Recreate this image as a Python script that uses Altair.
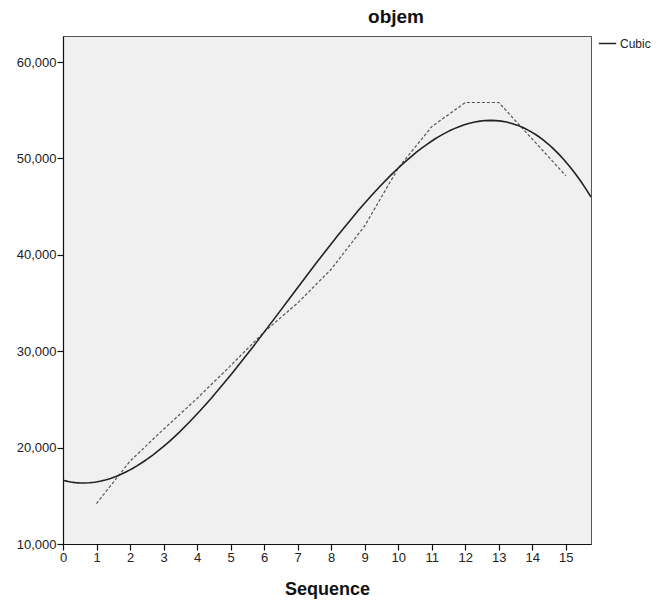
import altair as alt
import pandas as pd

sequence = [1, 2, 3, 4, 5, 6, 7, 8, 9, 10, 11, 12, 13, 14, 15]
objem = [14200, 18600, 21900, 25100, 28500, 32000, 35000, 38500,
         43000, 49000, 53300, 55800, 55800, 52000, 48200]
x_ticks = list(range(0, 16))
y_ticks = [10000, 20000, 30000, 40000, 50000, 60000]

df = pd.DataFrame({"seq": sequence, "objem": objem})

FONT = "Liberation Sans"
X_DOMAIN = [0, 15.75]
Y_DOMAIN = [10000, 62700]

x_axis = alt.Axis(values=x_ticks, format="d", title="Sequence", grid=False,
                  tickSize=6, labelPadding=1, titlePadding=16,
                  labelOverlap=False, labelFlush=False)
y_axis = alt.Axis(values=y_ticks, format=",d", title=None, grid=False,
                  tickSize=6, labelPadding=1, labelOverlap=False)

x_enc = alt.X("seq:Q", scale=alt.Scale(domain=X_DOMAIN, nice=False, zero=False),
              axis=x_axis)
y_enc = alt.Y("objem:Q", scale=alt.Scale(domain=Y_DOMAIN, nice=False, zero=False),
              axis=y_axis)

observed = alt.Chart(df).mark_line(
    color="#555555", strokeWidth=1.2, strokeDash=[3, 2]
).encode(x=x_enc, y=y_enc)

fit = alt.Chart(df).transform_regression(
    "seq", "objem", method="poly", order=3, extent=X_DOMAIN
).transform_calculate(series="'Cubic'").mark_line(
    strokeWidth=1.6, clip=True
).encode(
    x=x_enc,
    y=y_enc,
    color=alt.Color(
        "series:N",
        scale=alt.Scale(range=["#222222"]),
        legend=alt.Legend(
            title=None, orient="none", legendX=535, legendY=-2,
            symbolType="stroke", symbolStrokeWidth=1.5, symbolSize=300,
            labelFontSize=12, labelFont=FONT, labelColor="#222222",
            padding=0, labelOffset=3,
        ),
    ),
)

chart = alt.layer(observed, fit).properties(
    width=528,
    height=508,
    autosize=alt.AutoSizeParams(type="none"),
    padding={"left": 63, "top": 36, "right": 66, "bottom": 59},
    title=alt.TitleParams(
        "objem", font=FONT, fontSize=19, fontWeight="bold", color="#111111",
        anchor="middle", dx=69, offset=7,
    ),
).configure_view(
    fill="#f0f0f0", stroke="#555555", strokeWidth=1
).configure_axis(
    labelFont=FONT, labelFontSize=13, labelColor="#222222",
    titleFont=FONT, titleFontSize=18, titleFontWeight="bold", titleColor="#111111",
    domainColor="#111111", domainWidth=1.2, tickColor="#111111", tickWidth=1.2,
)

chart.save("out.html", embed_options={"renderer": "svg", "actions": False})
